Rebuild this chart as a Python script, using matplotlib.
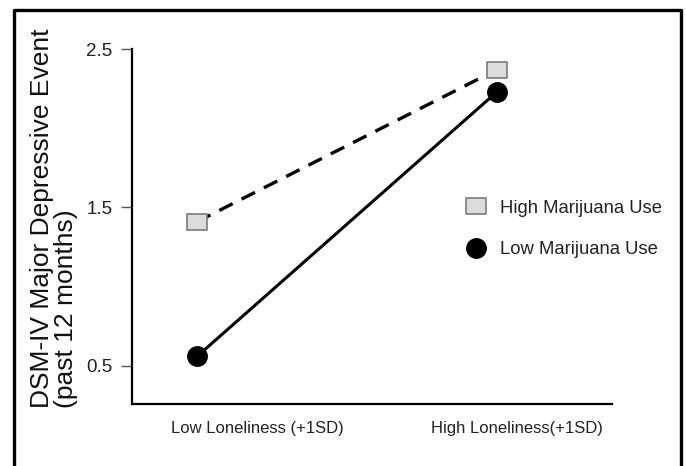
import matplotlib
matplotlib.use("Agg")
import matplotlib.pyplot as plt
from matplotlib.path import Path
from matplotlib.lines import Line2D

plt.rcParams['font.family'] = ['Liberation Sans', 'DejaVu Sans']

categories = ["Low Loneliness (+1SD)", "High Loneliness(+1SD)"]
high_use = [1.41, 2.37]
low_use = [0.56, 2.23]
yticks = [0.5, 1.5, 2.5]
ytick_labels = ["0.5", "1.5", "2.5"]
series_names = ["High Marijuana Use", "Low Marijuana Use"]

W, H = 686, 466
fig = plt.figure(figsize=(W / 100, H / 100), dpi=100)

# axes: x from 132 to 612 px, y from 49 to 404 px
ax = fig.add_axes([132 / W, 1 - 404 / H, (612 - 132) / W, (404 - 49) / H])

rect = Path([(-0.62, -0.5), (0.62, -0.5), (0.62, 0.5), (-0.62, 0.5), (-0.62, -0.5)],
            [Path.MOVETO, Path.LINETO, Path.LINETO, Path.LINETO, Path.CLOSEPOLY])

x = [0, 1]
ax.plot(x, high_use, color='black', lw=2.4, ls=(0, (4.5, 3)), marker=rect,
        markersize=14, markerfacecolor='#dcdcdc', markeredgecolor='#7a7a7a',
        markeredgewidth=1.2, zorder=3)
ax.plot(x, low_use, color='black', lw=2.2, ls='-', marker='o',
        markersize=14, markerfacecolor='black', markeredgecolor='black', zorder=3)

ax.set_xlim(-65 / 300, 1 + 115 / 300)
ax.set_ylim(0.26, 2.5)

for s in ['top', 'right']:
    ax.spines[s].set_visible(False)
for s in ['left', 'bottom']:
    ax.spines[s].set_linewidth(1.6)
    ax.spines[s].set_color('black')

ax.set_yticks(yticks)
ax.set_yticklabels(ytick_labels, fontsize=13.5, color='#222222')
ax.tick_params(axis='y', length=8, width=1.0, color='#555555', pad=6)
ax.set_xticks([])

# category labels (offset from the points as in the original)
label_x = [257, 517]
for lx, lab in zip(label_x, categories):
    fig.text(lx / W, 1 - 428 / H, lab, ha='center', va='center',
             fontsize=12, color='#222222')

# y-axis label, two lines, left aligned (bottom when rotated)
fig.text(54 / W, 1 - 408 / H,
         "DSM-IV Major Depressive Event\n(past 12 months)",
         rotation=90, ha='center', va='bottom', multialignment='left',
         fontsize=19, linespacing=0.95, color='#111111')

# legend
handles = [
    Line2D([], [], ls='none', marker=rect, markersize=14, markerfacecolor='#dcdcdc',
           markeredgecolor='#7a7a7a', markeredgewidth=1.2),
    Line2D([], [], ls='none', marker='o', markersize=14, markerfacecolor='black',
           markeredgecolor='black'),
]
leg = fig.legend(handles, series_names, loc='center left',
                 bbox_to_anchor=(467 / W, 1 - 229 / H), frameon=False,
                 fontsize=13.3, handlelength=1.0, handletextpad=0.8,
                 labelspacing=1.35, borderpad=0, borderaxespad=0)
for t in leg.get_texts():
    t.set_color('#222222')

# figure border (open at bottom)
fig.add_artist(Line2D([14 / W, 14 / W, 681 / W, 681 / W],
                      [0, 1 - 10 / H, 1 - 10 / H, 0],
                      transform=fig.transFigure, color='black', lw=2.4))

fig.savefig("out.png", dpi=100)
